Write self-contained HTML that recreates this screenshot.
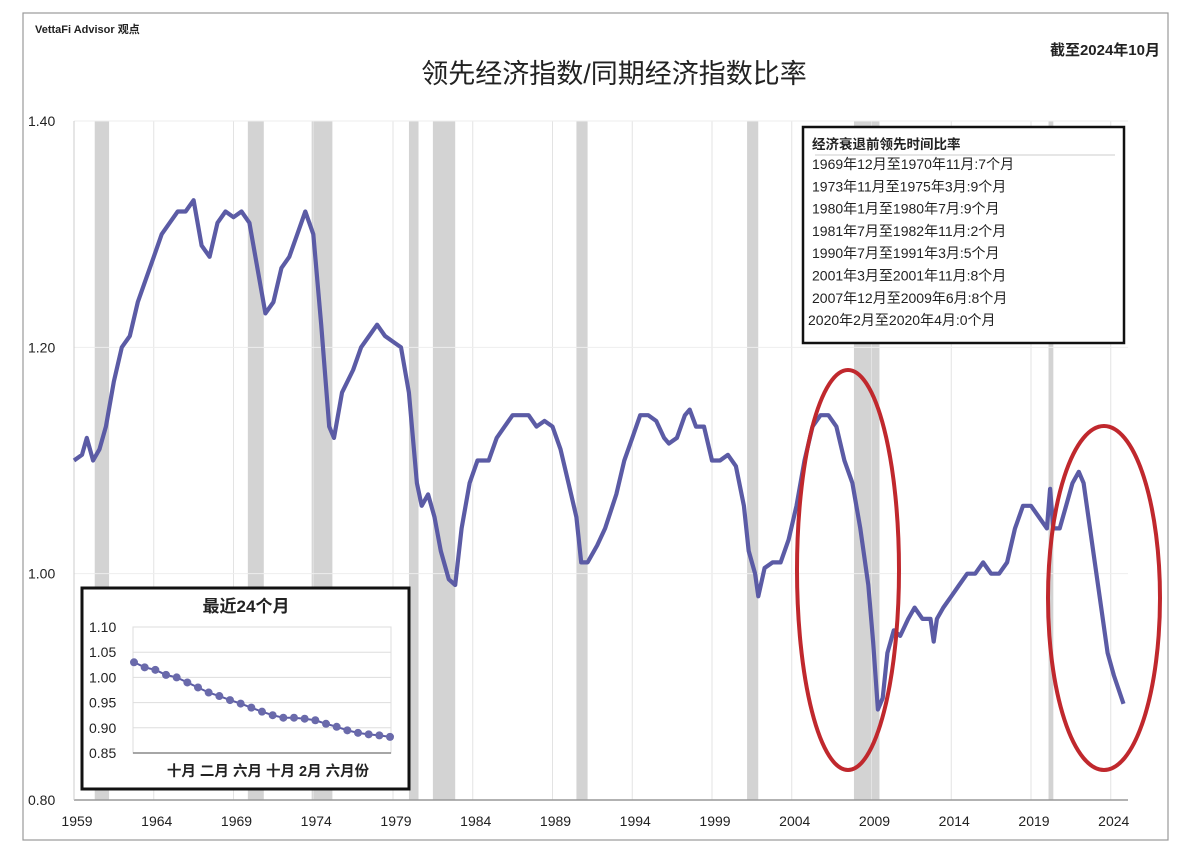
<!DOCTYPE html>
<html><head><meta charset="utf-8"><style>
body{margin:0;background:#fff;}
svg text{font-family:"Liberation Sans","Noto Sans CJK SC",sans-serif;}
</style></head><body>
<svg width="1185" height="841" viewBox="0 0 1185 841" xmlns="http://www.w3.org/2000/svg">
<rect x="23" y="13" width="1145" height="827" fill="#fff" stroke="#999" stroke-width="1.2"/>
<text x="35" y="33" font-size="11" font-weight="bold" fill="#222">VettaFi Advisor 观点</text>
<text x="614" y="83" font-size="27" text-anchor="middle" fill="#222">领先经济指数/同期经济指数比率</text>
<text x="1160" y="55" font-size="15" text-anchor="end" font-weight="bold" fill="#222">截至2024年10月</text>
<g id="bands"></g>
<g id="grid"></g>
<g id="axes"></g>
<path id="mainline" fill="none" stroke="#5b5ba5" stroke-width="4.2" stroke-linejoin="round"/>
<g>
<rect x="803" y="127" width="321" height="216" fill="#fff" stroke="#111" stroke-width="2.5"/>
<text x="812" y="149" font-size="13.5" font-weight="bold" fill="#222">经济衰退前领先时间比率</text>
<line x1="815" y1="155" x2="1115" y2="155" stroke="#ccc"/>
<g id="legrows" font-size="14" fill="#222"></g>
</g>
<ellipse cx="848" cy="570" rx="51" ry="200" fill="none" stroke="#c0282d" stroke-width="4"/>
<ellipse cx="1104" cy="598" rx="56" ry="172" fill="none" stroke="#c0282d" stroke-width="4"/>
<g>
<rect x="82" y="588" width="327" height="201" fill="#fff" stroke="#111" stroke-width="3"/>
<text x="246" y="612" font-size="17" font-weight="bold" text-anchor="middle" fill="#222">最近24个月</text>
<g id="inset"></g>
<text x="268" y="776" font-size="14.5" font-weight="bold" text-anchor="middle" fill="#222">十月 二月 六月 十月 2月 六月份</text>
</g>
</svg>
<script>
const NS="http://www.w3.org/2000/svg";
const years=[1959.0,1959.5,1959.8,1960.2,1960.6,1961.0,1961.5,1962,1962.5,1963,1963.5,1964,1964.5,1965,1965.5,1966,1966.5,1967,1967.5,1968,1968.5,1969,1969.5,1970,1970.5,1971,1971.5,1972,1972.5,1973,1973.5,1974,1974.5,1975,1975.3,1975.8,1976.5,1977,1977.5,1978,1978.5,1979,1979.5,1980,1980.5,1980.8,1981.2,1981.6,1982,1982.5,1982.9,1983.3,1983.8,1984.3,1985,1985.5,1986,1986.5,1987,1987.5,1988,1988.5,1989,1989.5,1990,1990.5,1990.8,1991.2,1991.8,1992.3,1993,1993.5,1994,1994.5,1995,1995.5,1996,1996.3,1996.8,1997.3,1997.6,1998,1998.5,1999,1999.5,2000,2000.5,2001,2001.3,2001.7,2001.9,2002.3,2002.8,2003.3,2003.8,2004.3,2004.8,2005.3,2005.8,2006.3,2006.8,2007.3,2007.8,2008.3,2008.8,2009.1,2009.4,2009.7,2010,2010.4,2010.8,2011.3,2011.7,2012.2,2012.7,2012.9,2013.1,2013.5,2014,2014.5,2015,2015.5,2016,2016.5,2017,2017.5,2018,2018.5,2019,2019.5,2020,2020.2,2020.4,2020.8,2021.2,2021.6,2022,2022.3,2022.7,2023,2023.4,2023.8,2024.2,2024.8];
const ratio=[1.10,1.105,1.12,1.10,1.11,1.13,1.17,1.20,1.21,1.24,1.26,1.28,1.30,1.31,1.32,1.32,1.33,1.29,1.28,1.31,1.32,1.315,1.32,1.31,1.27,1.23,1.24,1.27,1.28,1.30,1.32,1.30,1.22,1.13,1.12,1.16,1.18,1.20,1.21,1.22,1.21,1.205,1.20,1.16,1.08,1.06,1.07,1.05,1.02,0.995,0.99,1.04,1.08,1.10,1.10,1.12,1.13,1.14,1.14,1.14,1.13,1.135,1.13,1.11,1.08,1.05,1.01,1.01,1.025,1.04,1.07,1.10,1.12,1.14,1.14,1.135,1.12,1.115,1.12,1.14,1.145,1.13,1.13,1.10,1.10,1.105,1.095,1.06,1.02,1.00,0.98,1.005,1.01,1.01,1.03,1.06,1.10,1.13,1.14,1.14,1.13,1.10,1.08,1.04,0.99,0.94,0.88,0.89,0.93,0.95,0.945,0.96,0.97,0.96,0.96,0.94,0.96,0.97,0.98,0.99,1.00,1.00,1.01,1.00,1.00,1.01,1.04,1.06,1.06,1.05,1.04,1.075,1.04,1.04,1.06,1.08,1.09,1.08,1.04,1.01,0.97,0.93,0.91,0.885];
const recStart=[1960.3,1969.9,1973.9,1980.0,1981.5,1990.5,2001.2,2007.9,2020.1];
const recEnd=[1961.2,1970.9,1975.2,1980.6,1982.9,1991.2,2001.9,2009.5,2020.4];
const yTicks=[0.80,1.00,1.20,1.40];
const xTicks=[1959,1964,1969,1974,1979,1984,1989,1994,1999,2004,2009,2014,2019,2024];
const legendRows=["1969年12月至1970年11月:7个月","1973年11月至1975年3月:9个月","1980年1月至1980年7月:9个月","1981年7月至1982年11月:2个月","1990年7月至1991年3月:5个月","2001年3月至2001年11月:8个月","2007年12月至2009年6月:8个月","2020年2月至2020年4月:0个月"];
const insetVals=[1.03,1.02,1.015,1.005,1.0,0.99,0.98,0.97,0.963,0.955,0.948,0.94,0.932,0.925,0.92,0.92,0.918,0.915,0.908,0.902,0.895,0.89,0.887,0.885,0.882];
const insetTicks=[0.85,0.90,0.95,1.00,1.05,1.10];

const X=y=>74+(y-1959)*15.95;
const Y=v=>800-(v-0.8)/0.6*679;
function mk(tag,attrs,parent){const e=document.createElementNS(NS,tag);for(const k in attrs)e.setAttribute(k,attrs[k]);parent.appendChild(e);return e;}
const bands=document.getElementById('bands'),grid=document.getElementById('grid'),axes=document.getElementById('axes');
recStart.forEach((s,i)=>{const r=mk('rect',{x:X(s),y:121,width:X(recEnd[i])-X(s),height:679,fill:'#d3d3d3'},bands);

});
xTicks.forEach(t=>{const l=mk('line',{x1:X(t),x2:X(t),y1:121,y2:800,stroke:'#e3e3e3','stroke-width':1},grid);


const tx=mk('text',{x:X(t)+3,y:826,'font-size':14,'text-anchor':'middle',fill:'#222'},axes);tx.textContent=t;

});
yTicks.forEach(t=>{const l=mk('line',{x1:74,x2:1128,y1:Y(t),y2:Y(t),stroke:t==0.8?'#999':'#eee','stroke-width':t==0.8?1.5:1},grid);


const tx=mk('text',{x:28,y:Y(t)+5,'font-size':14,fill:'#222'},axes);tx.textContent=t.toFixed(2);

});
mk('line',{x1:74,x2:74,y1:121,y2:800,stroke:'#ccc'},grid);
document.getElementById('mainline').setAttribute('d',years.map((y,i)=>(i?'L':'M')+X(y).toFixed(1)+' '+Y(ratio[i]).toFixed(1)).join(''));
const lg=document.getElementById('legrows');
legendRows.forEach((s,i)=>{const t=mk('text',{x:i==7?808:812,y:169+i*22.3},lg);t.textContent=s;

});
const ins=document.getElementById('inset');
const IX=i=>134+i*(256/(insetVals.length-1)),IY=v=>753-(v-0.85)/0.25*126;
mk('rect',{x:133,y:627,width:258,height:126,fill:'#fff',stroke:'#ddd'},ins);
insetTicks.forEach(t=>{mk('line',{x1:133,x2:391,y1:IY(t),y2:IY(t),stroke:t==0.85?'#888':'#ddd','stroke-width':t==0.85?1.5:1},ins);
const tx=mk('text',{x:89,y:IY(t)+5,'font-size':14,fill:'#222'},ins);tx.textContent=t.toFixed(2);

});
const ip=mk('path',{d:insetVals.map((v,i)=>(i?'L':'M')+IX(i)+' '+IY(v)).join(''),fill:'none',stroke:'#5b5ba5','stroke-width':2},ins);


insetVals.forEach((v,i)=>{const c=mk('circle',{cx:IX(i),cy:IY(v),r:4,fill:'#6a6aab'},ins);

});
</script>
</body></html>
